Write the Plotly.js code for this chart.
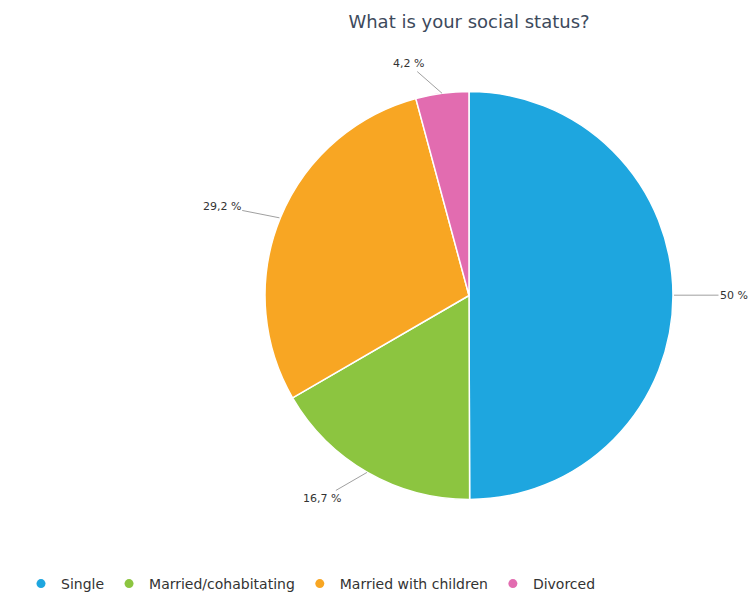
<!DOCTYPE html>
<html><head><meta charset="utf-8">
<script src="https://cdn.plot.ly/plotly-3.0.1.min.js"></script>
<style>body{margin:0;background:#fff}</style>
</head><body>
<div id="chart" style="width:751px;height:600px"></div>
<script>
const categories = ["Single", "Married/cohabitating", "Married with children", "Divorced"];
const values = [50, 16.7, 29.2, 4.2];
const labelTexts = ["50 %", "16,7 %", "29,2 %", "4,2 %"];
const colors = ["#1ea6df", "#8cc540", "#f8a623", "#e26cb0"];

const W = 751, H = 600;
const cx = 469, cy = 297, r = 205;
const dom = {x: [(cx - r) / W, (cx + r) / W], y: [1 - (cy + r) / H, 1 - (cy - r) / H]};

const traces = [{
  type: "pie", labels: categories, values: values, sort: false,
  direction: "clockwise", rotation: 0, domain: dom,
  marker: {colors: colors, line: {color: "#ffffff", width: 1.5}},
  textinfo: "none", hoverinfo: "label+percent", showlegend: false
}];
categories.forEach((c, i) => traces.push({
  type: "scatter", mode: "markers", x: [null], y: [null], name: c,
  marker: {color: colors[i], size: 9, symbol: "circle"}, hoverinfo: "skip"
}));

const total = values.reduce((a, b) => a + b, 0);
const annotations = [];
let acc = 0;
values.forEach((v, i) => {
  const mid = (acc + v / 2) / total * 2 * Math.PI;
  acc += v;
  const s = Math.sin(mid), co = Math.cos(mid);
  const px = (cx + r * s) / W, py = 1 - (cy - r * co) / H;
  const sgn = s >= 0 ? 1 : -1;
  annotations.push({
    xref: "paper", yref: "paper", x: px, y: py,
    text: labelTexts[i], showarrow: true, arrowhead: 0, arrowwidth: 1,
    arrowcolor: "#a0a0a0", ax: s * 30 + sgn * 30, ay: -co * 30,
    font: {family: "DejaVu Sans", size: 11, color: "#333333"}, standoff: 0, startstandoff: 0
  });
});

const layout = {
  width: W, height: H,
  margin: {l: 0, r: 0, t: 0, b: 0},
  paper_bgcolor: "#ffffff", plot_bgcolor: "#ffffff",
  font: {family: "DejaVu Sans", color: "#333333"},
  title: {text: "What is your social status?", x: cx / W, xanchor: "center",
          y: 1 - 22 / H, yanchor: "middle",
          font: {family: "DejaVu Sans", size: 18, color: "#3d4a5c"}},
  xaxis: {visible: false}, yaxis: {visible: false},
  showlegend: true,
  legend: {orientation: "h", x: 21 / W, xanchor: "left", y: 1 - 587 / H, yanchor: "middle",
           font: {family: "DejaVu Sans", size: 14, color: "#333333"}, itemclick: false},
  annotations: annotations
};
Plotly.newPlot("chart", traces, layout, {displayModeBar: false, staticPlot: true});
</script>
</body></html>
